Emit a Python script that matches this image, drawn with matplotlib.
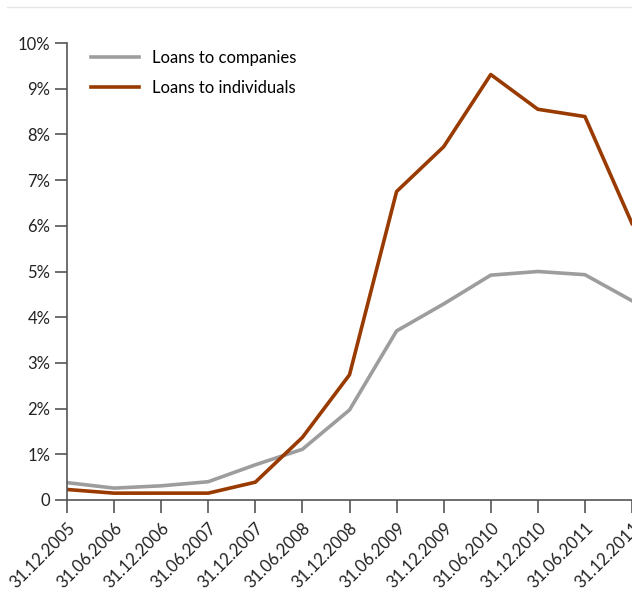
import matplotlib
matplotlib.use("Agg")
import matplotlib.pyplot as plt
from matplotlib.lines import Line2D

plt.rcParams['font.family'] = ['Liberation Sans Narrow', 'Lato', 'DejaVu Sans']

# semi-annual reporting dates
dates = ["31.12.2005", "31.06.2006", "31.12.2006", "31.06.2007", "31.12.2007",
         "31.06.2008", "31.12.2008", "31.06.2009", "31.12.2009", "31.06.2010",
         "31.12.2010", "31.06.2011", "31.12.2011"]

# share of non-performing loans, %
companies = [0.38, 0.26, 0.31, 0.40, 0.77, 1.11, 1.97, 3.70, 4.29, 4.92, 5.00, 4.93, 4.36]
individuals = [0.23, 0.15, 0.15, 0.15, 0.39, 1.37, 2.74, 6.75, 7.73, 9.31, 8.55, 8.39, 6.05]

y_ticks = list(range(0, 11))
y_labels = ["0"] + [f"{v}%" for v in y_ticks[1:]]

grey = "#9d9d9f"
brown = "#993b00"
axis_col = "#555555"

fig = plt.figure(figsize=(6.32, 6.07), dpi=100)
ax = fig.add_axes([67 / 632, 1 - 500 / 607, 1 - 67 / 632, (500 - 43) / 607])

x = list(range(len(dates)))
ax.plot(x, companies, color=grey, lw=2.6, label="Loans to companies")
ax.plot(x, individuals, color=brown, lw=2.6, label="Loans to individuals")

ax.set_xlim(0, len(dates) - 1)
ax.set_ylim(0, 10)
ax.set_xticks(x)
ax.set_xticklabels(dates, rotation=45, ha="right", va="top", rotation_mode="anchor",
                   fontsize=12, color="#222222")
ax.set_yticks(y_ticks)
ax.set_yticklabels(y_labels, fontsize=12, color="#222222")

for side in ["top", "right"]:
    ax.spines[side].set_visible(False)
for side in ["left", "bottom"]:
    ax.spines[side].set_color(axis_col)
    ax.spines[side].set_linewidth(1.2)
ax.tick_params(axis="both", direction="out", length=9, width=1.2, color=axis_col)
ax.tick_params(axis="x", pad=5)
ax.tick_params(axis="y", pad=3)

ax.legend(loc="upper left", bbox_to_anchor=(0.025, 1.006), frameon=False, fontsize=12,
          handlelength=2.9, handletextpad=0.75, labelspacing=0.8, borderaxespad=0.2)

# thin rule at the very top of the page
fig.add_artist(Line2D([7 / 632, 1.0], [1 - 7 / 607, 1 - 7 / 607], color="#e6e6e6", lw=1))

fig.savefig("out.png", dpi=100)
